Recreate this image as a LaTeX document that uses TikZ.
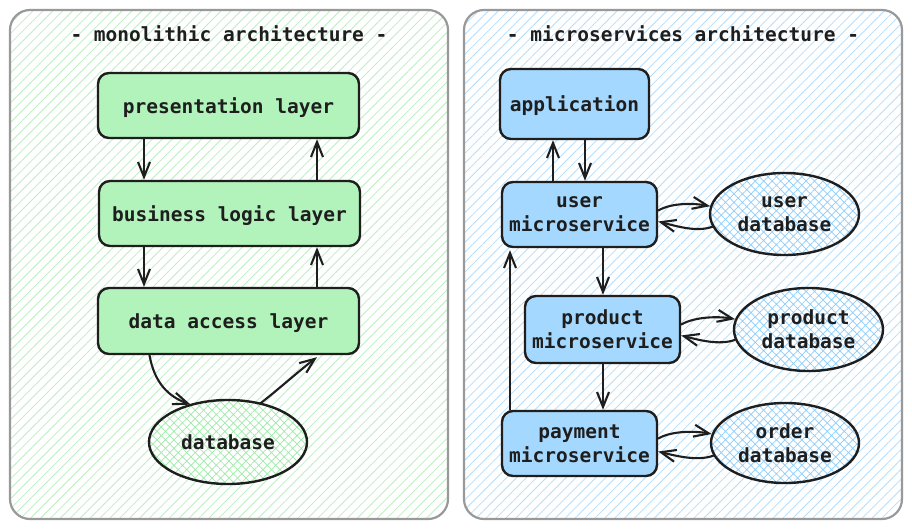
\documentclass[tikz,border=0pt]{standalone}
\usepackage{fontspec}
\setmonofont{DejaVu Sans Mono}
\usetikzlibrary{arrows.meta,patterns.meta,shapes.geometric}
\definecolor{ink}{HTML}{1E1E1E}
\definecolor{panelgray}{HTML}{999999}
\definecolor{gfill}{HTML}{B2F2BB}
\definecolor{bfill}{HTML}{A5D8FF}
\definecolor{ghatch}{HTML}{BDEEC3}
\definecolor{bhatch}{HTML}{B5DDFB}
\definecolor{gdbhatch}{HTML}{9EEAA8}
\definecolor{bdbhatch}{HTML}{8ECDFC}
\tikzset{
  lbl/.style={font=\ttfamily\bfseries\fontsize{19.5}{24}\selectfont, align=center, text=ink},
  panel/.style={draw=panelgray, line width=2.2pt, rounded corners=20pt,
    preaction={fill=white}, pattern={Lines[angle=45,distance=7pt,line width=0.8pt]}},
  box/.style={lbl, draw=ink, line width=2.4pt, rounded corners=11pt, inner sep=0pt},
  gbox/.style={box, fill=gfill},
  bbox/.style={box, fill=bfill},
  dbnode/.style={lbl, ellipse, draw=ink, line width=2.4pt, inner sep=0pt,
    preaction={fill=white}, pattern={Hatch[angle=45,distance=6pt,line width=0.7pt]}},
  arr/.style={draw=ink, line width=2.1pt, line cap=round, -{Straight Barb[length=15pt,width=12pt,line width=2.1pt]}}
}
\begin{document}
\begin{tikzpicture}[x=1pt,y=-1pt]
\useasboundingbox (0,0) rectangle (912,529);
% panels
\node[panel, pattern color=ghatch, minimum width=438pt, minimum height=509pt] (mono) at (229,264.5) {};
\node[panel, pattern color=bhatch, minimum width=438pt, minimum height=509pt] (micro) at (683,264.5) {};
\node[lbl, text depth=0pt] (mtitle) at (229,34) {- monolithic architecture -};
\node[lbl, text depth=0pt] (stitle) at (683,34) {- microservices architecture -};
% monolithic
\node[gbox, minimum width=261pt, minimum height=65pt, text depth=0pt] (pres) at (228.5,105.5) {presentation layer};
\node[gbox, minimum width=261pt, minimum height=65pt, text depth=0pt] (biz) at (229.5,213.5) {business logic layer};
\node[gbox, minimum width=261pt, minimum height=66pt, text depth=0pt] (data) at (228.5,321) {data access layer};
\node[dbnode, pattern color=gdbhatch, minimum width=158pt, minimum height=84pt, text depth=0pt] (db) at (228,442) {database};
\draw[arr] ([xshift=-84.5pt]pres.south) -- ([xshift=-85.5pt]biz.north);
\draw[arr] ([xshift=87.5pt]biz.north) -- ([xshift=88.5pt]pres.south);
\draw[arr] ([xshift=-85.5pt]biz.south) -- ([xshift=-84.5pt]data.north);
\draw[arr] ([xshift=88.5pt]data.north) -- ([xshift=87.5pt]biz.south);
\draw[arr] ([xshift=-79pt]data.south) .. controls +(5,28) and +(-22,-8) .. (db.135);
\draw[arr] (db.50) .. controls +(18,-14) and +(-16,12) .. ([xshift=88.5pt,yshift=-2pt]data.south);
% microservices
\node[bbox, minimum width=149pt, minimum height=70pt, text depth=0pt] (app) at (574.5,104) {application};
\node[bbox, minimum width=155pt, minimum height=65pt] (user) at (579.5,214.5) {user\\microservice};
\node[bbox, minimum width=155pt, minimum height=67pt] (prod) at (602.5,329.5) {product\\microservice};
\node[bbox, minimum width=155pt, minimum height=65pt] (pay) at (579.5,443.5) {payment\\microservice};
\node[dbnode, pattern color=bdbhatch, minimum width=149pt, minimum height=82pt] (udb) at (784.5,214) {user\\database};
\node[dbnode, pattern color=bdbhatch, minimum width=149pt, minimum height=83pt] (pdb) at (808.5,329.5) {product\\database};
\node[dbnode, pattern color=bdbhatch, minimum width=148pt, minimum height=80pt] (odb) at (785,443) {order\\database};
\draw[arr] ([xshift=-26.5pt]user.north) -- ([xshift=-21.5pt]app.south);
\draw[arr] ([xshift=10.5pt]app.south) -- ([xshift=5.5pt]user.north);
\draw[arr] ([xshift=23.5pt]user.south) -- ([xshift=0.5pt]prod.north);
\draw[arr] ([xshift=0.5pt]prod.south) -- ([xshift=23.5pt]pay.north);
\draw[arr] ([xshift=-69.5pt]pay.north) -- ([xshift=-69.5pt,yshift=-2pt]user.south);
% to databases
\draw[arr] ([yshift=4pt]user.east) .. controls +(14,-8) and +(-16,-3) .. (udb.174);
\draw[arr] (udb.190) .. controls +(-16,6) and +(16,4) .. ([yshift=-7pt]user.east);
\draw[arr] ([yshift=5pt]prod.east) .. controls +(14,-8) and +(-16,-3) .. (pdb.172);
\draw[arr] (pdb.188) .. controls +(-16,6) and +(16,4) .. ([yshift=-6pt]prod.east);
\draw[arr] ([yshift=5pt]pay.east) .. controls +(14,-8) and +(-16,-3) .. (odb.173);
\draw[arr] (odb.190) .. controls +(-16,6) and +(16,4) .. ([yshift=-8pt]pay.east);
\end{tikzpicture}
\end{document}
